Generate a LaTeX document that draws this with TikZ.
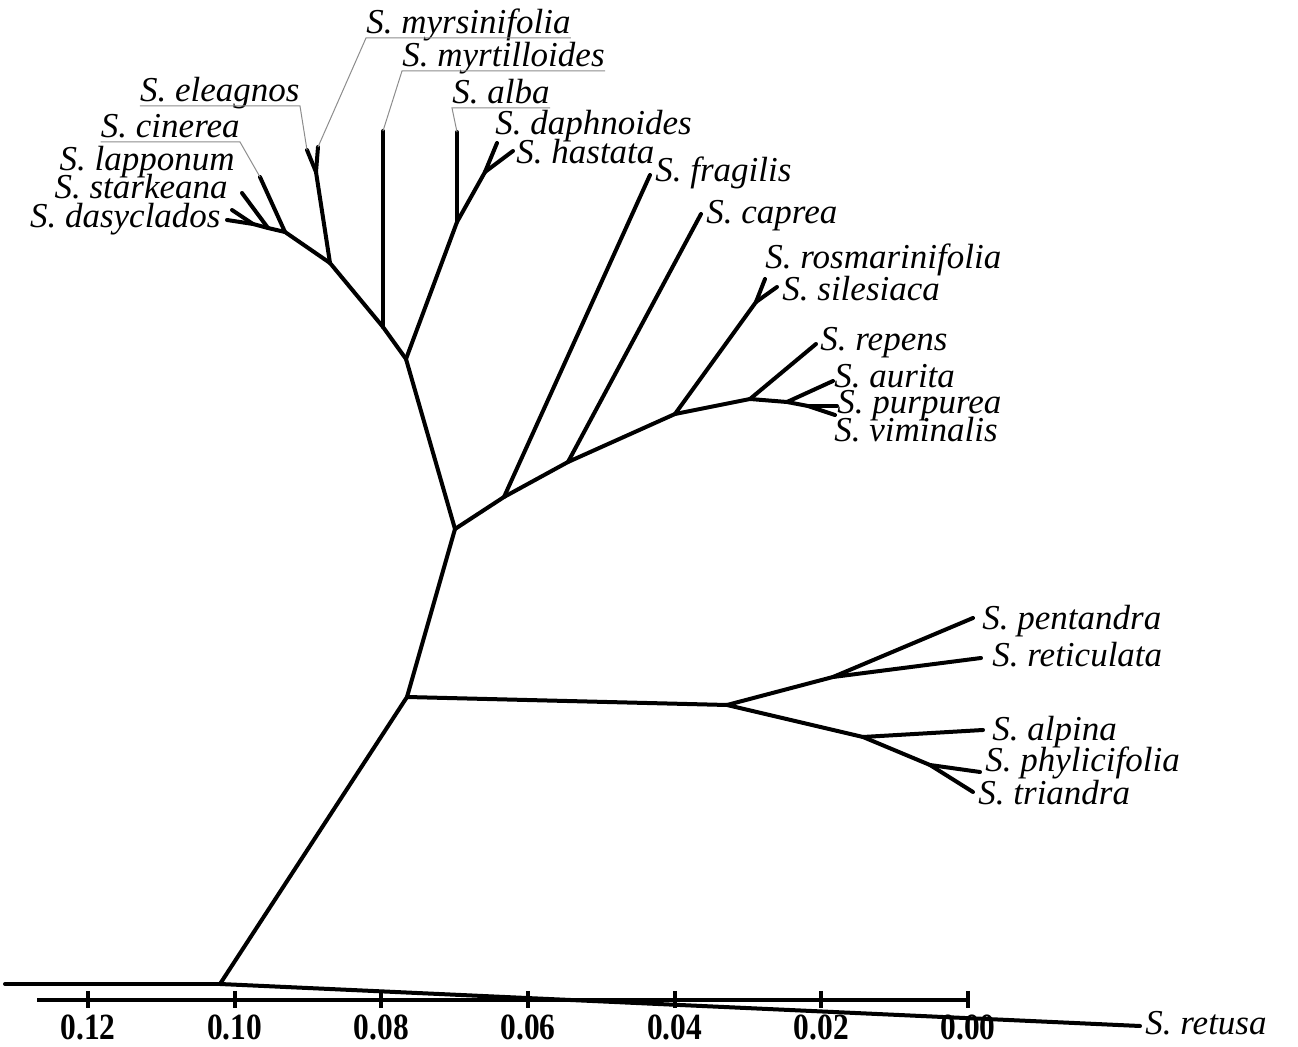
\documentclass[tikz,border=0pt]{standalone}
\usepackage{fontspec}
\usepackage{graphicx}
\setmainfont{Liberation Serif}
\begin{document}
\begin{tikzpicture}[x=0.5pt,y=-0.5pt,
  br/.style={line width=2pt,line cap=round,line join=round},
  axisline/.style={line width=2pt},
  lead/.style={line width=0.5pt,black!45},
  lab/.style={inner sep=0pt,font=\fontsize{17.5}{19}\selectfont\itshape},
  axl/.style={inner sep=0pt,anchor=base,font=\fontsize{18.5}{20}\selectfont\bfseries}]
\useasboundingbox (0,0) rectangle (1298,1047);

% ---------- junctions ----------
\coordinate (Lft) at (5,984);
\coordinate (R) at (220,984);
\coordinate (A) at (407,697);
\coordinate (B) at (455,529);
\coordinate (C) at (727,705);
\coordinate (D) at (406,359);
\coordinate (F) at (383,327);
\coordinate (G) at (330,263);
\coordinate (P) at (316,172);
\coordinate (H) at (285,232);
\coordinate (I) at (268,228);
\coordinate (J) at (253,224);
\coordinate (K) at (457,222);
\coordinate (L) at (485,172);
\coordinate (E1) at (504,497);
\coordinate (E2) at (568,462);
\coordinate (E3) at (675,414);
\coordinate (E4) at (750,399);
\coordinate (S1) at (756,302);
\coordinate (Q) at (787,402);
\coordinate (Q2) at (808,406);
\coordinate (M) at (833,677);
\coordinate (N) at (863,737);
\coordinate (O) at (930,765);

% ---------- tips ----------
\coordinate (tretusa) at (1140,1026);
\coordinate (tmyrs) at (318,147);
\coordinate (telea) at (307,150);
\coordinate (tmyrt) at (383,131);
\coordinate (tcin) at (260,177);
\coordinate (tlap) at (242,193);
\coordinate (tstar) at (232,210);
\coordinate (tdasy) at (227,220);
\coordinate (talba) at (457,132);
\coordinate (tdaph) at (497,143);
\coordinate (thast) at (513,151);
\coordinate (tfrag) at (650,175);
\coordinate (tcap) at (701,214);
\coordinate (trosm) at (765,279);
\coordinate (tsil) at (777,287);
\coordinate (trep) at (816,344);
\coordinate (taur) at (833,381);
\coordinate (tpur) at (837,406);
\coordinate (tvim) at (835,415);
\coordinate (tpent) at (973,618);
\coordinate (tret) at (981,658);
\coordinate (talp) at (983,730);
\coordinate (tphy) at (980,772);
\coordinate (ttri) at (973,792);

% ---------- branches ----------
\draw[br] (Lft) -- (R);
\draw[br] (R) -- (tretusa);
\draw[br] (R) -- (A);
\draw[br] (A) -- (B);
\draw[br] (A) -- (C);
\draw[br] (B) -- (D);
\draw[br] (D) -- (F);
\draw[br] (F) -- (G);
\draw[br] (F) -- (tmyrt);
\draw[br] (G) -- (P);
\draw[br] (P) -- (tmyrs);
\draw[br] (P) -- (telea);
\draw[br] (G) -- (H);
\draw[br] (H) -- (tcin);
\draw[br] (H) -- (I);
\draw[br] (I) -- (tlap);
\draw[br] (I) -- (J);
\draw[br] (J) -- (tstar);
\draw[br] (J) -- (tdasy);
\draw[br] (D) -- (K);
\draw[br] (K) -- (talba);
\draw[br] (K) -- (L);
\draw[br] (L) -- (tdaph);
\draw[br] (L) -- (thast);
\draw[br] (B) -- (E1);
\draw[br] (E1) -- (E2);
\draw[br] (E2) -- (E3);
\draw[br] (E3) -- (E4);
\draw[br] (E1) -- (tfrag);
\draw[br] (E2) -- (tcap);
\draw[br] (E3) -- (S1);
\draw[br] (S1) -- (trosm);
\draw[br] (S1) -- (tsil);
\draw[br] (E4) -- (trep);
\draw[br] (E4) -- (Q);
\draw[br] (Q) -- (taur);
\draw[br] (Q) -- (Q2);
\draw[br] (Q2) -- (tpur);
\draw[br] (Q2) -- (tvim);
\draw[br] (C) -- (M);
\draw[br] (M) -- (tpent);
\draw[br] (M) -- (tret);
\draw[br] (C) -- (N);
\draw[br] (N) -- (talp);
\draw[br] (N) -- (O);
\draw[br] (O) -- (tphy);
\draw[br] (O) -- (ttri);

% ---------- labels ----------
\node[lab,anchor=base west] (lmyrs) at (366,34) {S. myrsinifolia};
\node[lab,anchor=base west] (lmyrt) at (402,67) {S. myrtilloides};
\node[lab,anchor=base west] (lalba) at (452,104) {S. alba};
\node[lab,anchor=base west] (ldaph) at (495,135) {S. daphnoides};
\node[lab,anchor=base west] (lhast) at (516,164) {S. hastata};
\node[lab,anchor=base west] (lfrag) at (655,182) {S. fragilis};
\node[lab,anchor=base west] (lcap) at (706,224) {S. caprea};
\node[lab,anchor=base west] (lrosm) at (765,269) {S. rosmarinifolia};
\node[lab,anchor=base west] (lsil) at (782,301) {S. silesiaca};
\node[lab,anchor=base west] (lrep) at (820,351) {S. repens};
\node[lab,anchor=base west] (laur) at (834,388) {S. aurita};
\node[lab,anchor=base west] (lpur) at (837,414) {S. purpurea};
\node[lab,anchor=base west] (lvim) at (834,442) {S. viminalis};
\node[lab,anchor=base east] (lelea) at (300,102) {S. eleagnos};
\node[lab,anchor=base east] (lcin) at (240,138) {S. cinerea};
\node[lab,anchor=base east] (llap) at (235,171) {S. lapponum};
\node[lab,anchor=base east] (lstar) at (228,199) {S. starkeana};
\node[lab,anchor=base east] (ldasy) at (221,228) {S. dasyclados};
\node[lab,anchor=base west] (lpent) at (982,630) {S. pentandra};
\node[lab,anchor=base west] (lret) at (992,667) {S. reticulata};
\node[lab,anchor=base west] (lalp) at (992,741) {S. alpina};
\node[lab,anchor=base west] (lphy) at (985,772) {S. phylicifolia};
\node[lab,anchor=base west] (ltri) at (978,805) {S. triandra};
\node[lab,anchor=base west] (lretusa) at (1145,1035) {S. retusa};

% ---------- leader lines / underlines ----------
\draw[lead] (tmyrs) -- ([yshift=-2pt]lmyrs.base west) -- ([yshift=-2pt]lmyrs.base east);
\draw[lead] (tmyrt) -- ([yshift=-2pt]lmyrt.base west) -- ([yshift=-2pt]lmyrt.base east);
\draw[lead] (talba) -- ([yshift=-2pt]lalba.base west) -- ([yshift=-2pt]lalba.base east);
\draw[lead] (telea) -- ([yshift=-2pt]lelea.base east) -- ([yshift=-2pt]lelea.base west);
\draw[lead] (tcin) -- ([yshift=-2pt]lcin.base east) -- ([yshift=-2pt]lcin.base west);

% ---------- scale axis ----------
\draw[axisline] (37,1000) -- (968,1000);
\foreach \i/\v in {0/0.12,1/0.10,2/0.08,3/0.06,4/0.04,5/0.02,6/0.00}{
  \draw[axisline] ({88+\i*146.67},991) -- ({88+\i*146.67},1008);
  \node[axl] (ax\i) at ({88+\i*146.67},1040) {\scalebox{0.85}[1]{\v}};
}
\end{tikzpicture}
\end{document}
